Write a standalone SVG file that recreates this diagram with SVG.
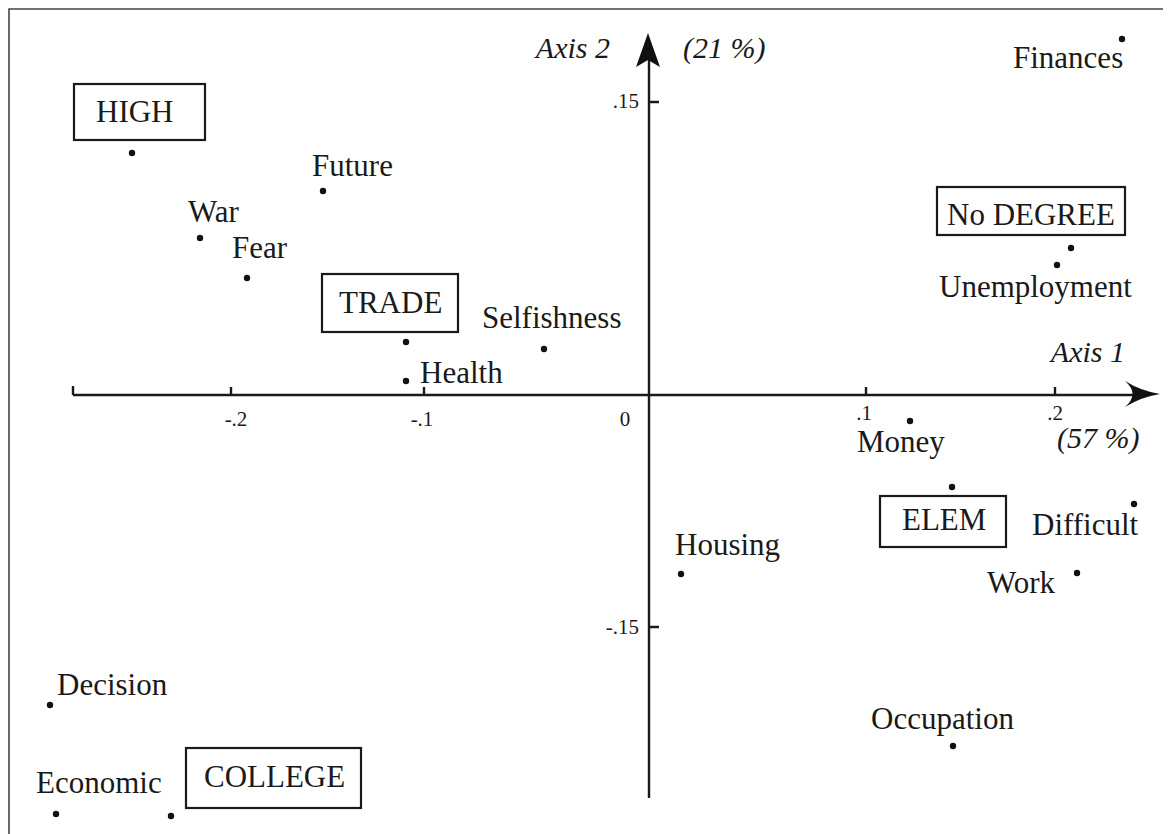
<svg xmlns="http://www.w3.org/2000/svg" width="1173" height="834" viewBox="0 0 1173 834">
<style>
text{font-family:"Liberation Serif","Times New Roman",serif;fill:#1a1a1a}
.lb{font-size:31px}
.it{font-size:30px;font-style:italic}
.tk{font-size:21px}
.box{fill:none;stroke:#1a1a1a;stroke-width:2.2}
.dot{fill:#111}
.ax{stroke:#1a1a1a;stroke-width:2.4;fill:none}
.frame{stroke:#444;stroke-width:1.6;fill:none}
</style>
<rect width="1173" height="834" fill="#fff"/>
<path class="frame" d="M9,834 V9 H1163"/>
<g id="axes">
  <path class="ax" d="M73,395 H1146"/>
  <path class="ax" d="M649,60 V798"/>
  <path d="M1125,381 Q1141,391 1160,394 Q1141,397 1125,407 Q1140,394 1125,381 Z" fill="#111"/>
  <path d="M648,33 L660,67 L648,60 L636,67 Z" fill="#111"/>
  <path class="ax" d="M73,386 V395 M231,387 V395 M424,387 V395 M866,387 V395 M1055,387 V395" stroke-width="2"/>
  <path class="ax" d="M649,102 H659 M649,627 H659" stroke-width="2"/>
  <text class="it" x="610" y="58" text-anchor="end">Axis 2</text>
  <text class="it" x="683" y="58">(21 %)</text>
  <text class="it" x="1125" y="362" text-anchor="end">Axis 1</text>
  <text class="it" x="1057" y="448">(57 %)</text>
  <text class="tk" x="639" y="108" text-anchor="end">.15</text>
  <text class="tk" x="639" y="634" text-anchor="end">-.15</text>
  <text class="tk" x="236" y="426" text-anchor="middle">-.2</text>
  <text class="tk" x="422" y="426" text-anchor="middle">-.1</text>
  <text class="tk" x="625" y="426" text-anchor="middle">0</text>
  <text class="tk" x="864" y="420" text-anchor="middle">.1</text>
  <text class="tk" x="1055" y="420" text-anchor="middle">.2</text>
</g>
<g id="HIGH"><rect class="box" x="74" y="84" width="131" height="56"/><text class="lb" x="96" y="122">HIGH</text><circle class="dot" cx="132" cy="153" r="3.2"/></g>
<g id="TRADE"><rect class="box" x="322" y="274" width="136" height="58"/><text class="lb" x="339" y="313">TRADE</text><circle class="dot" cx="406" cy="342" r="3.2"/></g>
<g id="NoDEGREE"><rect class="box" x="937" y="187" width="188" height="48"/><text class="lb" x="947" y="225">No DEGREE</text><circle class="dot" cx="1071" cy="248" r="3.2"/></g>
<g id="ELEM"><rect class="box" x="880" y="496" width="126" height="51"/><text class="lb" x="902" y="530">ELEM</text><circle class="dot" cx="952" cy="487" r="3.2"/></g>
<g id="COLLEGE"><rect class="box" x="186" y="748" width="175" height="60"/><text class="lb" x="204" y="787">COLLEGE</text><circle class="dot" cx="171" cy="816" r="3.2"/></g>
<g id="Future"><text class="lb" x="312" y="176">Future</text><circle class="dot" cx="323" cy="191" r="3.2"/></g>
<g id="War"><text class="lb" x="188" y="222">War</text><circle class="dot" cx="200" cy="238" r="3.2"/></g>
<g id="Fear"><text class="lb" x="232" y="258">Fear</text><circle class="dot" cx="247" cy="278" r="3.2"/></g>
<g id="Selfishness"><text class="lb" x="482" y="328">Selfishness</text><circle class="dot" cx="544" cy="349" r="3.2"/></g>
<g id="Health"><text class="lb" x="420" y="383">Health</text><circle class="dot" cx="406" cy="381" r="3.2"/></g>
<g id="Finances"><text class="lb" x="1013" y="68">Finances</text><circle class="dot" cx="1122" cy="39" r="3.2"/></g>
<g id="Unemployment"><text class="lb" x="939" y="297">Unemployment</text><circle class="dot" cx="1057" cy="265" r="3.2"/></g>
<g id="Money"><text class="lb" x="857" y="452">Money</text><circle class="dot" cx="910" cy="421" r="3.2"/></g>
<g id="Difficult"><text class="lb" x="1032" y="535">Difficult</text><circle class="dot" cx="1134" cy="504" r="3.2"/></g>
<g id="Work"><text class="lb" x="987" y="593">Work</text><circle class="dot" cx="1077" cy="573" r="3.2"/></g>
<g id="Housing"><text class="lb" x="675" y="555">Housing</text><circle class="dot" cx="681" cy="574" r="3.2"/></g>
<g id="Occupation"><text class="lb" x="871" y="729">Occupation</text><circle class="dot" cx="953" cy="746" r="3.2"/></g>
<g id="Decision"><text class="lb" x="57" y="695">Decision</text><circle class="dot" cx="50" cy="705" r="3.2"/></g>
<g id="Economic"><text class="lb" x="36" y="793">Economic</text><circle class="dot" cx="56" cy="814" r="3.2"/></g>
</svg>
